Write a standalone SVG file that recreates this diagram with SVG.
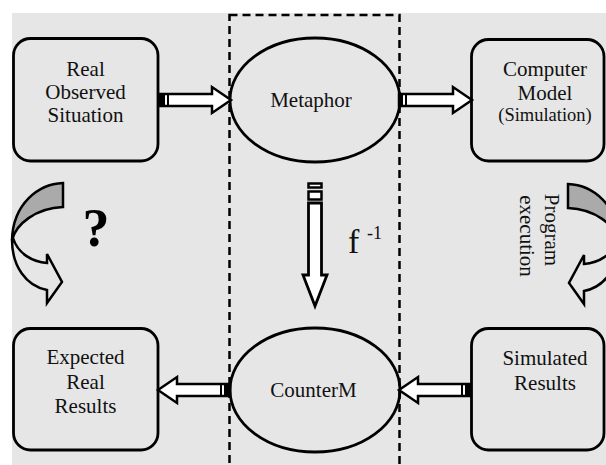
<svg xmlns="http://www.w3.org/2000/svg" width="606" height="465" viewBox="0 0 606 465">
<style>
.box{fill:none;stroke:#000;stroke-width:2.8}
.ell{fill:none;stroke:#000;stroke-width:2.8}
.arr{fill:#fff;stroke:#000;stroke-width:2.5;stroke-linejoin:miter}
.t{font-family:"Liberation Serif","Times New Roman",serif;font-size:21px;fill:#111;text-anchor:middle}
.band{fill:#aaaaaa;stroke:#000;stroke-width:2.5}
.wband{fill:#e6e6e6;stroke:#000;stroke-width:2.5;stroke-linejoin:miter}
</style>
<defs>
<g id="curved">
<path class="band" d="M63,183 C38,184 13,204 12,240 C16,224 36,208 63,207 Z"/>
<path class="wband" d="M12,240 C12,266 26,286 47,290 L47,303 L62,282 L47,254 L47,263 C33,262 18,254 13,238 Z"/>
</g>
</defs>
<rect x="0" y="0" width="606" height="465" fill="#fff"/>
<rect x="12" y="13" width="594" height="452" fill="#e6e6e6"/>
<rect x="229.5" y="15" width="170" height="470" fill="none" stroke="#000" stroke-width="2.5" stroke-dasharray="8,5"/>

<g id="real">
<rect class="box" x="13.5" y="38.5" width="144.5" height="122.5" rx="17"/>
<text class="t" x="85.5" y="76">Real</text>
<text class="t" x="85.5" y="99">Observed</text>
<text class="t" x="85.5" y="122">Situation</text>
</g>
<g id="metaphor">
<ellipse class="ell" cx="315" cy="100" rx="85" ry="62"/>
<text class="t" x="311" y="107">Metaphor</text>
</g>
<g id="computer">
<rect class="box" x="471.5" y="39.5" width="132.5" height="121.5" rx="17"/>
<text class="t" x="545" y="76">Computer</text>
<text class="t" x="545" y="100">Model</text>
<text class="t" x="545" y="121" style="font-size:18.5px">(Simulation)</text>
</g>
<g id="expected">
<rect class="box" x="13.5" y="328.5" width="144.5" height="121.5" rx="17"/>
<text class="t" x="85.5" y="364">Expected</text>
<text class="t" x="85.5" y="389">Real</text>
<text class="t" x="85.5" y="413">Results</text>
</g>
<g id="counterm">
<ellipse class="ell" cx="315" cy="390" rx="85" ry="62"/>
<text class="t" x="313.5" y="397">CounterM</text>
</g>
<g id="simulated">
<rect class="box" x="471.5" y="328.5" width="132.5" height="121.5" rx="17"/>
<text class="t" x="545" y="365">Simulated</text>
<text class="t" x="545" y="390">Results</text>
</g>

<g id="connectors">
<!-- Real -> Metaphor -->
<polygon class="arr" points="160,94 212,94 212,87 231,100 212,113 212,106 160,106"/>
<rect x="159" y="93" width="6" height="14" fill="#000"/>
<line x1="168" y1="94" x2="168" y2="106" stroke="#000" stroke-width="2"/>
<!-- Metaphor -> Computer -->
<polygon class="arr" points="399,94 453,94 453,87 472,100 453,113 453,106 399,106"/>
<rect x="398" y="93" width="5" height="14" fill="#000"/>
<line x1="406" y1="94" x2="406" y2="106" stroke="#000" stroke-width="2"/>
<!-- Simulated -> CounterM -->
<polygon class="arr" points="470,384 418,384 418,377 399,390 418,403 418,396 470,396"/>
<rect x="465" y="383" width="6" height="14" fill="#000"/>
<line x1="462" y1="384" x2="462" y2="396" stroke="#000" stroke-width="2"/>
<!-- CounterM -> Expected -->
<polygon class="arr" points="230,384 177,384 177,377 158,390 177,403 177,396 230,396"/>
<rect x="224" y="383" width="6" height="14" fill="#000"/>
<line x1="221" y1="384" x2="221" y2="396" stroke="#000" stroke-width="2"/>
<!-- Metaphor -> CounterM (f^-1) -->
<rect x="308.5" y="183.5" width="13" height="4" fill="#fff" stroke="#000" stroke-width="2.5"/>
<rect x="308.5" y="191.5" width="13" height="8" fill="#fff" stroke="#000" stroke-width="2.5"/>
<polygon class="arr" points="308.5,203 321.5,203 321.5,275 327,275 315,306 303,275 308.5,275" style="stroke-width:2.8"/>
<!-- curved arrows -->
<use href="#curved"/>
<use href="#curved" transform="translate(631,1) scale(-1,1)"/>
</g>

<text x="348" y="253" style="font-family:'Liberation Serif','Times New Roman',serif;font-size:34px;fill:#111">f</text>
<text x="367" y="239" style="font-family:'Liberation Serif','Times New Roman',serif;font-size:18px;fill:#111">-1</text>
<text x="96" y="246" style="font-family:'Liberation Serif','Times New Roman',serif;font-size:54px;font-weight:bold;fill:#000;text-anchor:middle">?</text>
<text class="t" transform="translate(545,230) rotate(90)" x="0" y="0">Program</text>
<text class="t" transform="translate(520,236) rotate(90)" x="0" y="0">execution</text>
</svg>
